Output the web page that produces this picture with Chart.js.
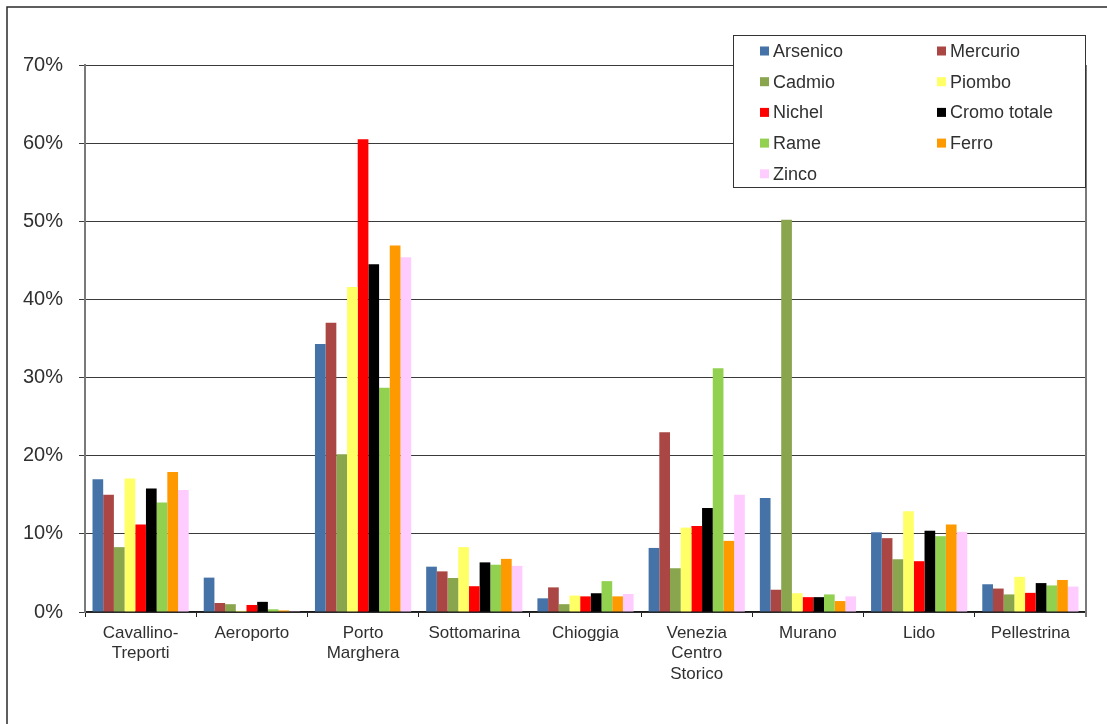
<!DOCTYPE html>
<html>
<head>
<meta charset="utf-8">
<title>Metalli per area</title>
<script src="https://cdn.jsdelivr.net/npm/chart.js@4/dist/chart.umd.min.js"></script>
<style>
  html, body { margin: 0; padding: 0; background: #fff; }
  #wrap { width: 1107px; height: 724px; }
</style>
</head>
<body>
<div id="wrap"><canvas id="c" width="1107" height="724"></canvas></div>
<script>
// Areas along the lagoon (multi-line labels as arrays)
const categories = [
  ["Cavallino-", "Treporti"],
  "Aeroporto",
  ["Porto", "Marghera"],
  "Sottomarina",
  "Chioggia",
  ["Venezia", "Centro", "Storico"],
  "Murano",
  "Lido",
  "Pellestrina"
];

// Share of each metal per area, in percent
const arsenico = [17.0, 4.4, 34.3, 5.8, 1.75, 8.2, 14.6, 10.2, 3.55];
const mercurio = [15.0, 1.15, 37.0, 5.2, 3.15, 23.0, 2.85, 9.45, 3.0];
const cadmio   = [8.3, 1.0, 20.2, 4.35, 1.0, 5.6, 50.2, 6.75, 2.25];
const piombo   = [17.1, 0.15, 41.6, 8.3, 2.1, 10.8, 2.4, 12.9, 4.5];
const nichel   = [11.2, 0.9, 60.5, 3.3, 2.0, 11.0, 1.9, 6.5, 2.45];
const cromo    = [15.8, 1.3, 44.5, 6.35, 2.4, 13.3, 1.9, 10.4, 3.7];
const rame     = [14.0, 0.35, 28.7, 6.05, 3.95, 31.2, 2.25, 9.7, 3.4];
const ferro    = [17.9, 0.2, 46.9, 6.8, 2.0, 9.1, 1.4, 11.2, 4.1];
const zinco    = [15.6, 0.1, 45.4, 5.9, 2.3, 15.0, 2.0, 10.25, 3.25];

const yTicks = [0, 10, 20, 30, 40, 50, 60, 70];

const series = [
  { label: "Arsenico",     data: arsenico, color: "#4572A7" },
  { label: "Mercurio",     data: mercurio, color: "#AA4643" },
  { label: "Cadmio",       data: cadmio,   color: "#89A54E" },
  { label: "Piombo",       data: piombo,   color: "#FFFF66" },
  { label: "Nichel",       data: nichel,   color: "#FF0000" },
  { label: "Cromo totale", data: cromo,    color: "#000000" },
  { label: "Rame",         data: rame,     color: "#92D050" },
  { label: "Ferro",        data: ferro,    color: "#FF9900" },
  { label: "Zinco",        data: zinco,    color: "#FFCCFF" }
];

const FONT = "'Liberation Sans', Arial, sans-serif";
const TEXT = "#303030";

// Outer frame of the figure and right edge of the plot area
const framePlugin = {
  id: "frame",
  beforeDatasetsDraw(chart) {
    const ctx = chart.ctx, a = chart.chartArea;
    ctx.save();
    ctx.strokeStyle = "#7a7a7a";
    ctx.lineWidth = 2;
    ctx.beginPath();
    ctx.moveTo(a.right, a.top);
    ctx.lineTo(a.right, a.bottom + 5);
    ctx.stroke();
    ctx.restore();
  },
  afterDraw(chart) {
    const ctx = chart.ctx;
    ctx.save();
    ctx.strokeStyle = "#2a2a2a";
    ctx.lineWidth = 1.5;
    ctx.beginPath();
    ctx.moveTo(7, 724);
    ctx.lineTo(7, 7);
    ctx.lineTo(1107, 7);
    ctx.stroke();
    ctx.restore();
  }
};

// Boxed two-column legend in the top-right corner of the plot
const boxLegend = {
  id: "boxLegend",
  afterDraw(chart) {
    const ctx = chart.ctx;
    const x0 = 733, y0 = 35, w = 352, h = 152;
    ctx.save();
    ctx.fillStyle = "#fff";
    ctx.fillRect(x0, y0, w, h);
    ctx.strokeStyle = "#333";
    ctx.lineWidth = 1;
    ctx.strokeRect(x0 + 0.5, y0 + 0.5, w, h);
    ctx.font = "18px " + FONT;
    ctx.textBaseline = "middle";
    ctx.textAlign = "left";
    chart.data.datasets.forEach((ds, i) => {
      const col = i % 2, row = Math.floor(i / 2);
      const sx = col === 0 ? 760 : 937;
      const cy = 51 + row * 30.7;
      ctx.fillStyle = ds.backgroundColor;
      ctx.fillRect(sx, cy - 4.5, 9, 9);
      ctx.fillStyle = TEXT;
      ctx.fillText(ds.label, sx + 13, cy + 1);
    });
    ctx.restore();
  }
};

new Chart(document.getElementById("c"), {
  type: "bar",
  data: {
    labels: categories,
    datasets: series.map(s => ({
      label: s.label,
      data: s.data,
      backgroundColor: s.color,
      borderWidth: 0,
      categoryPercentage: 0.865,
      barPercentage: 1.0
    }))
  },
  options: {
    responsive: false,
    animation: false,
    devicePixelRatio: 1,
    layout: { padding: { left: 0, right: 21, top: 65, bottom: 0 } },
    plugins: {
      legend: { display: false },
      tooltip: { enabled: false }
    },
    scales: {
      x: {
        offset: true,
        grid: {
          offset: true,
          drawOnChartArea: false,
          drawTicks: true,
          tickLength: 5,
          color: "#222",
          lineWidth: 1
        },
        border: { display: true, color: "#1a1a1a", width: 1.5 },
        ticks: {
          color: TEXT,
          font: { family: FONT, size: 17 },
          padding: 6,
          maxRotation: 0,
          autoSkip: false
        },
        afterFit(scale) { scale.height = 112; }
      },
      y: {
        min: 0,
        max: 70,
        afterBuildTicks(scale) { scale.ticks = yTicks.map(v => ({ value: v })); },
        grid: {
          color: "#3a3a3a",
          lineWidth: 1,
          drawTicks: true,
          tickLength: 6
        },
        border: { display: true, color: "#7a7a7a", width: 2 },
        ticks: {
          color: TEXT,
          font: { family: FONT, size: 20 },
          padding: 16,
          callback: v => v + "%"
        },
        afterFit(scale) { scale.width = 85; }
      }
    }
  },
  plugins: [boxLegend, framePlugin]
});
</script>
</body>
</html>
